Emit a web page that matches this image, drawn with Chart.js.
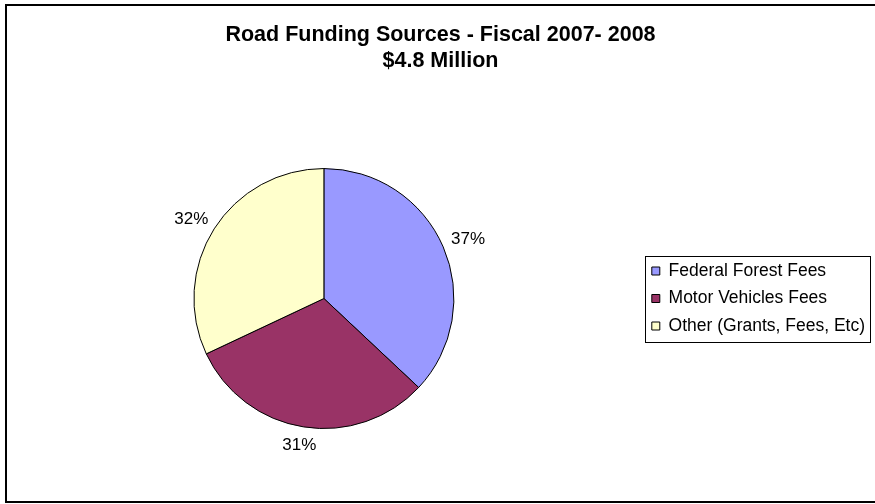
<!DOCTYPE html>
<html>
<head>
<meta charset="utf-8">
<title>Road Funding Sources</title>
<script src="https://cdn.jsdelivr.net/npm/chart.js@4.4.1/dist/chart.umd.min.js"></script>
<style>
    html, body { margin: 0; padding: 0; background: #fff; }
    #contenedor { width: 875px; height: 504px; position: relative; }
</style>
</head>
<body>
<div id="contenedor">
    <canvas id="graficaFondos"></canvas>
</div>
<script>
// Datos de la grafica
const categorias = ['Federal Forest Fees', 'Motor Vehicles Fees', 'Other (Grants, Fees, Etc)'];
const porcentajes = [37, 31, 32];
const titulo = ['Road Funding Sources - Fiscal 2007- 2008', '$4.8 Million'];

// Colores estilo Excel
const colores = ['#9999FF', '#993366', '#FFFFCC'];

const fuente = 'Arial, "Liberation Sans", sans-serif';

// Etiquetas de porcentaje fuera de cada porcion
const etiquetasPlugin = {
    id: 'etiquetasPorcentaje',
    afterDatasetsDraw(chart) {
        const ctx = chart.ctx;
        const meta = chart.getDatasetMeta(0);
        ctx.save();
        ctx.font = '17px ' + fuente;
        ctx.fillStyle = '#000';
        ctx.textAlign = 'center';
        ctx.textBaseline = 'middle';
        meta.data.forEach(function(arc, i) {
            const p = arc.getProps(['x', 'y', 'startAngle', 'endAngle', 'outerRadius'], true);
            const medio = (p.startAngle + p.endAngle) / 2;
            const texto = porcentajes[i] + '%';
            const w = ctx.measureText(texto).width;
            const h = 17;
            const ax = p.x + Math.cos(medio) * (p.outerRadius + 10);
            const ay = p.y + Math.sin(medio) * (p.outerRadius + 10);
            ctx.fillText(texto, ax + Math.cos(medio) * w / 2, ay + Math.sin(medio) * h / 2);
        });
        ctx.restore();
    }
};

// Marco del grafico y recuadro de la leyenda
const marcosPlugin = {
    id: 'marcos',
    afterDraw(chart) {
        const ctx = chart.ctx;
        ctx.save();
        // borde exterior (el lado derecho queda fuera del lienzo)
        ctx.strokeStyle = '#000';
        ctx.lineWidth = 2;
        ctx.strokeRect(6, 5, 880, 497);

        // recuadro de la leyenda
        const leyenda = chart.legend;
        const cajas = leyenda.legendHitBoxes;
        if (cajas && cajas.length) {
            const arriba = cajas[0].top - 6;
            const ultima = cajas[cajas.length - 1];
            const abajo = ultima.top + ultima.height + 7;
            const izq = leyenda.left + 3;
            const der = Math.min(chart.width - 3, Math.max.apply(null, cajas.map(c => c.left + c.width)) + 5);
            ctx.lineWidth = 1;
            ctx.strokeRect(Math.round(izq) + 0.5, Math.round(arriba) + 0.5, Math.round(der - izq), Math.round(abajo - arriba));
        }
        ctx.restore();
    }
};

window.initGraficaFondos = function() {
    if (!window.Chart) {
        console.warn('Chart.js no está cargado.');
        return;
    }
    var ctxFondos = document.getElementById('graficaFondos');
    new Chart(ctxFondos, {
        type: 'pie',
        data: {
            labels: categorias,
            datasets: [{
                data: porcentajes,
                backgroundColor: colores,
                borderColor: '#000',
                borderWidth: 1,
                hoverOffset: 0
            }]
        },
        options: {
            responsive: true,
            maintainAspectRatio: false,
            animation: false,
            layout: {
                padding: { left: 6, right: 0, top: 0, bottom: 75 }
            },
            plugins: {
                title: {
                    display: true,
                    text: titulo,
                    color: '#000',
                    font: { family: fuente, size: 21.5, weight: 'bold', lineHeight: 1.21 },
                    padding: { top: 22, bottom: 94 }
                },
                legend: {
                    position: 'right',
                    fullSize: false,
                    align: 'center',
                    labels: {
                        color: '#000',
                        font: { family: fuente, size: 17.5 },
                        boxWidth: 8,
                        boxHeight: 8,
                        padding: 10
                    }
                },
                tooltip: { enabled: false }
            }
        },
        plugins: [etiquetasPlugin, marcosPlugin]
    });
};

window.addEventListener('DOMContentLoaded', function() {
    window.initGraficaFondos && window.initGraficaFondos();
});
</script>
</body>
</html>
